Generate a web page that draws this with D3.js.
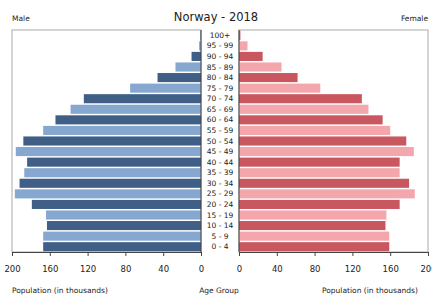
<!DOCTYPE html>
<html>
<head>
<meta charset="utf-8">
<script src="https://cdn.jsdelivr.net/npm/d3@7"></script>
<style>
  body { margin: 0; background: #fff; }
  text { font-family: "DejaVu Sans", sans-serif; fill: #222; }
</style>
</head>
<body>
<div id="chart"></div>
<script>
// Data (thousands), listed from youngest to oldest
var ageGroups = ["0 - 4", "5 - 9", "10 - 14", "15 - 19", "20 - 24", "25 - 29", "30 - 34",
  "35 - 39", "40 - 44", "45 - 49", "50 - 54", "55 - 59", "60 - 64", "65 - 69",
  "70 - 74", "75 - 79", "80 - 84", "85 - 89", "90 - 94", "95 - 99", "100+"];
var male = [167, 167, 163, 164, 179, 197, 192, 187, 184, 196, 188, 167, 154, 138,
  124, 75, 46, 27, 10, 2, 0.3];
var female = [159, 159, 155, 156, 170, 186, 180, 170, 170, 185, 177, 160, 152, 137,
  130, 86, 62, 45, 25, 9, 1.5];
var ticks = [0, 40, 80, 120, 160, 200];

var svgWidth = 432;
var svgHeight = 295;

var svg = d3.select("#chart")
  .append("svg")
  .attr("width", svgWidth)
  .attr("height", svgHeight);

var plotTop = 30, plotBottom = 252;
var leftX0 = 12, leftX1 = 201;
var rightX0 = 239, rightX1 = 428;

var rows = ageGroups.map(function(a, i) {
  return { age: a, male: male[i], female: female[i], i: i };
});

// Scales
var y = d3.scaleBand()
  .domain(ageGroups.slice().reverse())
  .range([plotTop, plotBottom])
  .paddingInner(0.14)
  .paddingOuter(0.07);

var xMale = d3.scaleLinear().domain([0, 200]).range([leftX1, leftX0]);
var xFemale = d3.scaleLinear().domain([0, 200]).range([rightX0, rightX1]);

// Frames
svg.append("rect")
  .attr("x", leftX0).attr("y", plotTop)
  .attr("width", leftX1 - leftX0).attr("height", plotBottom - plotTop)
  .attr("fill", "none").attr("stroke", "#aaa").attr("stroke-width", 1);
svg.append("rect")
  .attr("x", rightX0).attr("y", plotTop)
  .attr("width", rightX1 - rightX0).attr("height", plotBottom - plotTop)
  .attr("fill", "none").attr("stroke", "#aaa").attr("stroke-width", 1);

// Bars
svg.selectAll(".male")
  .data(rows)
  .enter()
  .append("rect")
  .attr("class", "male")
  .attr("x", d => xMale(d.male))
  .attr("y", d => y(d.age))
  .attr("width", d => xMale(0) - xMale(d.male))
  .attr("height", y.bandwidth())
  .attr("fill", d => d.i % 2 === 0 ? "#3f5f86" : "#86a8d0");

svg.selectAll(".female")
  .data(rows)
  .enter()
  .append("rect")
  .attr("class", "female")
  .attr("x", xFemale(0))
  .attr("y", d => y(d.age))
  .attr("width", d => xFemale(d.female) - xFemale(0))
  .attr("height", y.bandwidth())
  .attr("fill", d => d.i % 2 === 0 ? "#c9575f" : "#f4a6ad");

// Axes
var maleAxis = d3.axisBottom(xMale).tickValues(ticks).tickSize(4).tickSizeOuter(0);
var femaleAxis = d3.axisBottom(xFemale).tickValues(ticks).tickSize(4).tickSizeOuter(0);

function styleAxis(g) {
  g.select(".domain").attr("stroke", "#444");
  g.selectAll(".tick line").attr("stroke", "#444");
  g.selectAll(".tick text")
    .attr("font-size", "8.5px")
    .attr("font-family", "DejaVu Sans, sans-serif")
    .attr("fill", "#222")
    .attr("dy", "1.55em");
}

svg.append("g")
  .attr("transform", `translate(0, ${plotBottom})`)
  .call(maleAxis)
  .call(styleAxis);

svg.append("g")
  .attr("transform", `translate(0, ${plotBottom})`)
  .call(femaleAxis)
  .call(styleAxis);

// Inner vertical lines
svg.append("line")
  .attr("x1", leftX1).attr("x2", leftX1).attr("y1", plotTop).attr("y2", plotBottom)
  .attr("stroke", "#444");
svg.append("line")
  .attr("x1", rightX0).attr("x2", rightX0).attr("y1", plotTop).attr("y2", plotBottom)
  .attr("stroke", "#444");

// Age labels
svg.selectAll(".age")
  .data(rows)
  .enter()
  .append("text")
  .attr("class", "age")
  .attr("x", (leftX1 + rightX0) / 2)
  .attr("y", d => y(d.age) + y.bandwidth() / 2)
  .attr("dy", "0.35em")
  .attr("text-anchor", "middle")
  .style("font-size", "7.5px")
  .text(d => d.age);

// Titles
svg.append("text")
  .attr("x", 216).attr("y", 21)
  .attr("text-anchor", "middle")
  .style("font-size", "11.5px")
  .text("Norway - 2018");

svg.append("text")
  .attr("x", 12).attr("y", 21)
  .style("font-size", "7.5px")
  .text("Male");

svg.append("text")
  .attr("x", 428).attr("y", 21)
  .attr("text-anchor", "end")
  .style("font-size", "7.5px")
  .text("Female");

svg.append("text")
  .attr("x", 12).attr("y", 293)
  .style("font-size", "7.5px")
  .text("Population (in thousands)");

svg.append("text")
  .attr("x", 219).attr("y", 293)
  .attr("text-anchor", "middle")
  .style("font-size", "7.5px")
  .text("Age Group");

svg.append("text")
  .attr("x", 322).attr("y", 293)
  .style("font-size", "7.5px")
  .text("Population (in thousands)");
</script>
</body>
</html>
